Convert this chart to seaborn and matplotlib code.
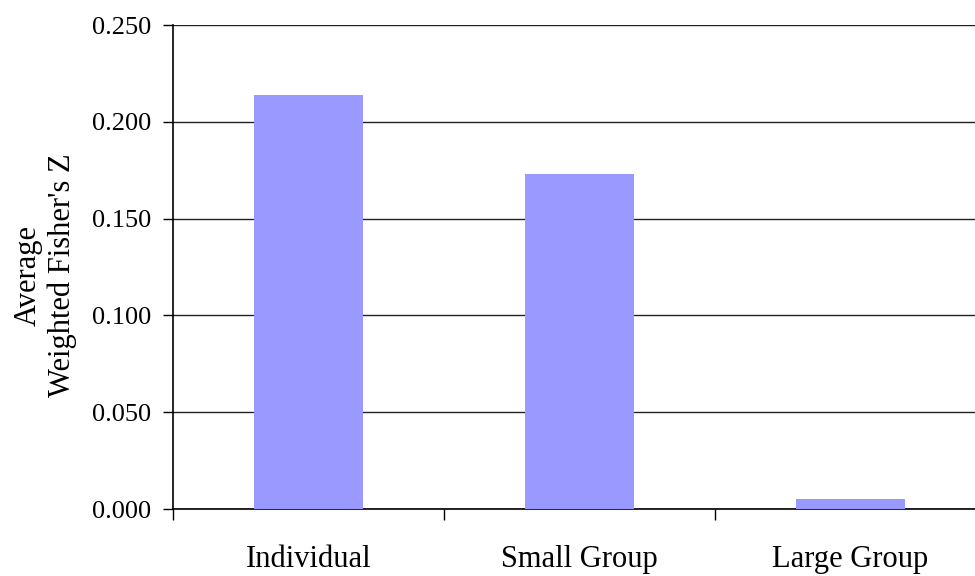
import matplotlib
matplotlib.use("Agg")
import matplotlib.pyplot as plt
import seaborn as sns
import pandas as pd

categories = ["Individual", "Small Group", "Large Group"]
values = [0.214, 0.173, 0.005]
y_ticks = [0.000, 0.050, 0.100, 0.150, 0.200, 0.250]

sns.set_theme(style="white")
plt.rcParams["font.family"] = ["Liberation Serif", "DejaVu Serif"]
plt.rcParams["text.color"] = "black"
plt.rcParams["axes.labelcolor"] = "black"
plt.rcParams["xtick.color"] = "black"
plt.rcParams["ytick.color"] = "black"

df = pd.DataFrame({"group": categories, "z": values})

fig = plt.figure(figsize=(9.75, 5.76), dpi=100)
# axes runs slightly past the right edge of the figure
ax = fig.add_axes([173 / 975, 67 / 576, 813 / 975, 484 / 576])

sns.barplot(data=df, x="group", y="z", color="#9999FF", saturation=1,
            width=0.40, linewidth=0, edgecolor="none", ax=ax, zorder=3)

ax.set_xlim(-0.5, 2.5)
ax.set_ylim(0, 0.25)
ax.set_yticks(y_ticks)
ax.set_yticklabels([f"{v:.3f}" for v in y_ticks])
ax.yaxis.grid(True, color="#222222", linewidth=1.0, zorder=0)
ax.set_axisbelow(True)

# category boundaries carry the tick marks, labels sit at the centres
ax.set_xticks([-0.5, 0.5, 1.5])
ax.set_xticklabels([])
ax.set_xticks([0, 1, 2], minor=True)
ax.set_xticklabels(categories, minor=True, fontsize=22)
ax.tick_params(axis="x", which="major", direction="out", length=8, width=1,
               color="black", bottom=True)
ax.tick_params(axis="x", which="minor", length=0, pad=26, bottom=True,
               labelcolor="black")
ax.tick_params(axis="y", direction="out", length=7, width=1, color="black",
               labelsize=19, pad=9, left=True, labelcolor="black")

for side in ["top", "right"]:
    ax.spines[side].set_visible(False)
for side in ["left", "bottom"]:
    ax.spines[side].set_color("black")
    ax.spines[side].set_linewidth(1.2)

ax.set_xlabel("")
ax.set_ylabel("Average\nWeighted Fisher's Z", fontsize=22, labelpad=10,
              linespacing=1.2, color="black")
ax.yaxis.set_label_coords(-0.118, 0.483)

fig.savefig("out.png", dpi=100)
